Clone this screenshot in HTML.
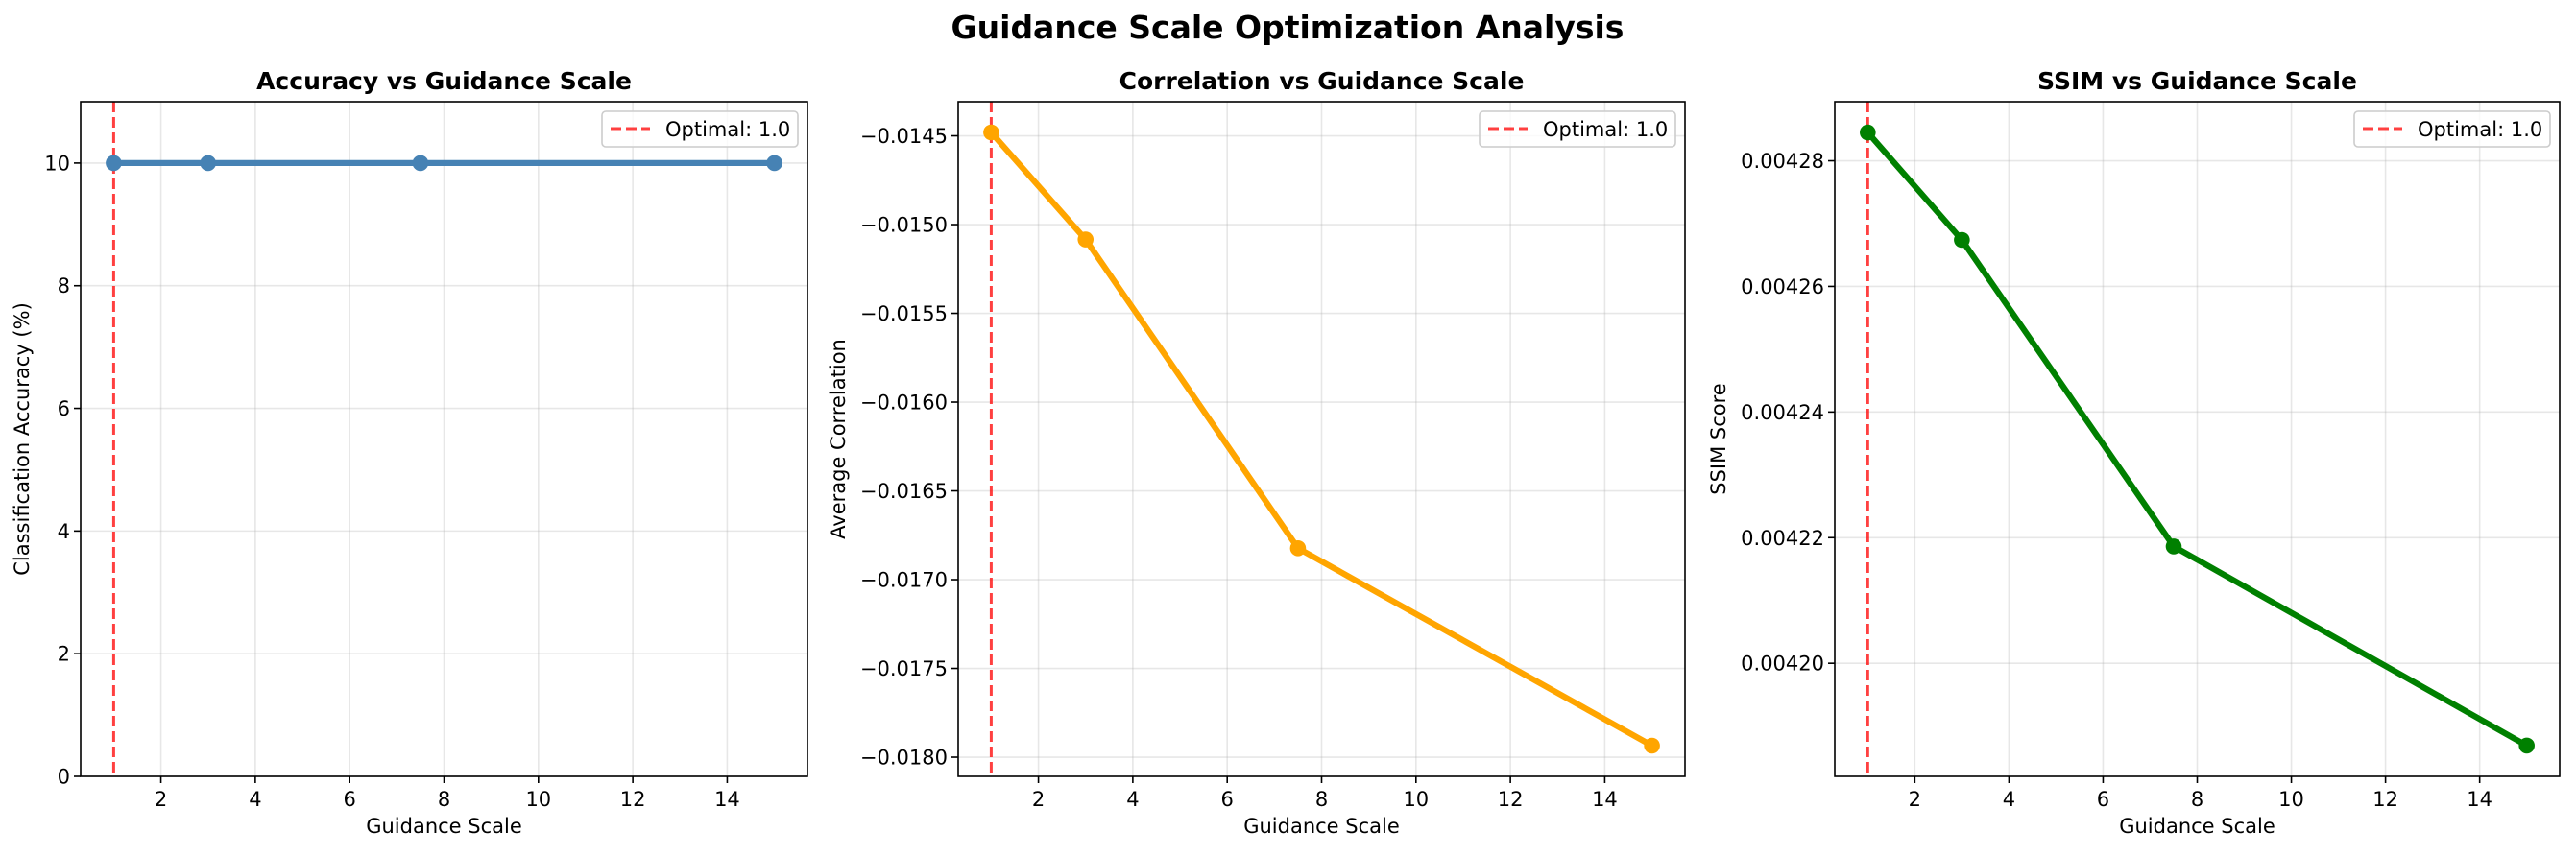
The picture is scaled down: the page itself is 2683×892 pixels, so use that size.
<!DOCTYPE html>
<html><head><meta charset="utf-8">
<style>
html,body{margin:0;padding:0;background:#fff;}
svg text{font-family:"DejaVu Sans","Liberation Sans",sans-serif;}
</style></head>
<body>
<svg id="fig" width="2683" height="887" viewBox="0 0 2683 887" xmlns="http://www.w3.org/2000/svg">
<rect width="2683" height="887" fill="#fff"/>
<text x="1341" y="40" text-anchor="middle" font-size="33" font-weight="bold" fill="#000">Guidance Scale Optimization Analysis</text>
</svg>
<script>
const guidance = [1, 3, 7.5, 15];
const accuracy = [10, 10, 10, 10];
const correlation = [-0.014481, -0.015084, -0.016823, -0.017935];
const ssim = [0.0042845, 0.0042674, 0.0042186, 0.0041869];
const xTicks = [2, 4, 6, 8, 10, 12, 14];
const accTicks = [0, 2, 4, 6, 8, 10];
const corrTicks = [-0.0145, -0.0150, -0.0155, -0.0160, -0.0165, -0.0170, -0.0175, -0.0180];
const ssimTicks = [0.00420, 0.00422, 0.00424, 0.00426, 0.00428];
const optimal = 1.0;

const NS = 'http://www.w3.org/2000/svg';
const svg = document.getElementById('fig');
function mk(tag, attrs, parent){const e=document.createElementNS(NS,tag);for(const k in attrs)e.setAttribute(k,attrs[k]);(parent||svg).appendChild(e);return e;}

function panel(cfg){
  const g = mk('g',{});
  
  
  const L=cfg.left,R=cfg.right,T=106,B=809;
  const xmin=0.3,xmax=15.7;
  const sx=v=>L+(v-xmin)/(xmax-xmin)*(R-L);
  const sy=v=>B-(v-cfg.ymin)/(cfg.ymax-cfg.ymin)*(B-T);
  xTicks.forEach(t=>{const l=mk('line',{x1:sx(t),x2:sx(t),y1:T,y2:B,stroke:'#b0b0b0','stroke-opacity':0.3,'stroke-width':1.6},g);
    });
  cfg.ticks.forEach(t=>{const l=mk('line',{x1:L,x2:R,y1:sy(t),y2:sy(t),stroke:'#b0b0b0','stroke-opacity':0.3,'stroke-width':1.6},g);
    });
  const ol=mk('line',{x1:sx(optimal),x2:sx(optimal),y1:T,y2:B,stroke:'#ff0000','stroke-opacity':0.75,'stroke-width':3,'stroke-dasharray':'11,5'},g);
  
  const pts=guidance.map((x,i)=>sx(x)+','+sy(cfg.values[i])).join(' ');
  const pl=mk('polyline',{points:pts,fill:'none',stroke:cfg.color,'stroke-width':6.2,'stroke-linejoin':'round','stroke-linecap':'square'},g);
  
  guidance.forEach((x,i)=>{const c=mk('circle',{cx:sx(x),cy:sy(cfg.values[i]),r:8.3,fill:cfg.color},g);
    });
  const fr=mk('rect',{x:L,y:T,width:R-L,height:B-T,fill:'none',stroke:'#000','stroke-width':1.6},g);
  
  xTicks.forEach(t=>{mk('line',{x1:sx(t),x2:sx(t),y1:B,y2:B+7,stroke:'#000','stroke-width':1.6},g);
    const tx=mk('text',{x:sx(t),y:840,'text-anchor':'middle','font-size':21,fill:'#000'},g);tx.textContent=t;
    });
  cfg.ticks.forEach((t,i)=>{mk('line',{x1:L-7,x2:L,y1:sy(t),y2:sy(t),stroke:'#000','stroke-width':1.6},g);
    const tx=mk('text',{x:L-11,y:sy(t)+7.5,'text-anchor':'end','font-size':21,fill:'#000'},g);tx.textContent=cfg.labels[i];
    });
  const xl=mk('text',{x:(L+R)/2,y:868,'text-anchor':'middle','font-size':21,fill:'#000'},g);xl.textContent='Guidance Scale';
  
  const yl=mk('text',{x:0,y:0,'text-anchor':'middle','font-size':21,fill:'#000',transform:`translate(${cfg.ylx},${(T+B)/2}) rotate(-90)`},g);yl.textContent=cfg.ylabel;
  
  const ti=mk('text',{x:(L+R)/2,y:93,'text-anchor':'middle','font-size':25,'font-weight':'bold',fill:'#000'},g);ti.textContent=cfg.title;
  
  const lg=mk('g',{},g);
  
  mk('rect',{x:R-214,y:116,width:204,height:37,rx:4,fill:'#fff','fill-opacity':0.8,stroke:'#cccccc','stroke-width':1.6},lg);
  mk('line',{x1:R-205,x2:R-164,y1:134,y2:134,stroke:'#ff0000','stroke-opacity':0.75,'stroke-width':3,'stroke-dasharray':'11,5'},lg);
  const lt=mk('text',{x:R-148,y:142,'font-size':21,fill:'#000'},lg);lt.textContent='Optimal: '+optimal.toFixed(1);
  
}
panel({name:'accuracy-panel',left:84,right:841,ymin:0,ymax:11,values:accuracy,ticks:accTicks,labels:accTicks.map(String),color:'#4682b4',title:'Accuracy vs Guidance Scale',ylabel:'Classification Accuracy (%)',ylx:30});
panel({name:'correlation-panel',left:998,right:1755,ymin:-0.018108,ymax:-0.014308,values:correlation,ticks:corrTicks,labels:corrTicks.map(t=>'\u2212'+Math.abs(t).toFixed(4)),color:'#ffa500',title:'Correlation vs Guidance Scale',ylabel:'Average Correlation',ylx:880});
panel({name:'ssim-panel',left:1911,right:2666,ymin:0.0041820,ymax:0.0042894,values:ssim,ticks:ssimTicks,labels:ssimTicks.map(t=>t.toFixed(5)),color:'#008000',title:'SSIM vs Guidance Scale',ylabel:'SSIM Score',ylx:1797});
</script>
</body></html>
